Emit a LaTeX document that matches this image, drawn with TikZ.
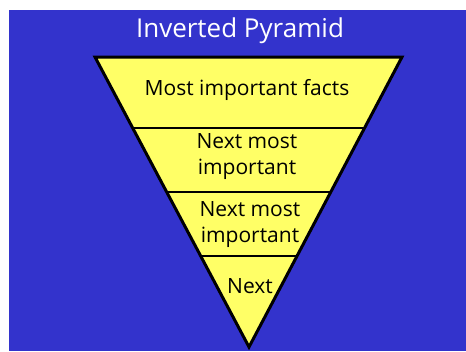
\documentclass[tikz,border=0pt]{standalone}
\usepackage{fontspec}
\setmainfont{Open Sans}
\definecolor{slideBlue}{RGB}{51,51,204}
\definecolor{layerYellow}{RGB}{255,255,102}
\usetikzlibrary{calc}

\begin{document}
\begin{tikzpicture}[x=1pt, y=-1pt, every node/.style={font=\fontsize{21}{26}\selectfont, align=center}]
  \useasboundingbox (0,0) rectangle (466,351);
  \fill[slideBlue] (9,10) rectangle (466,351);
  \coordinate (tl) at (95,57);
  \coordinate (tr) at (402,57);
  \coordinate (apex) at (249,347);
  % Pyramid body
  \fill[layerYellow] (tl) -- (tr) -- (apex) -- cycle;
  \draw[line width=2.5pt] ($(tl)!0.245!(apex)$) -- ($(tr)!0.245!(apex)$);
  \draw[line width=2.5pt] ($(tl)!0.466!(apex)$) -- ($(tr)!0.466!(apex)$);
  \draw[line width=2.5pt] ($(tl)!0.686!(apex)$) -- ($(tr)!0.686!(apex)$);
  \draw[line width=3pt, line join=miter] (tl) -- (tr) -- (apex) -- cycle;
  % Labels
  \node[white, font=\fontsize{26}{30}\selectfont] (title) at (240,31) {Inverted Pyramid};
  \node (facts) at (247,90) {Most important facts};
  \node (next1) at (247,157) {Next most\\important};
  \node (next2) at (250,225) {Next most\\important};
  \node (next3) at (250,286) {Next};
\end{tikzpicture}
\end{document}
